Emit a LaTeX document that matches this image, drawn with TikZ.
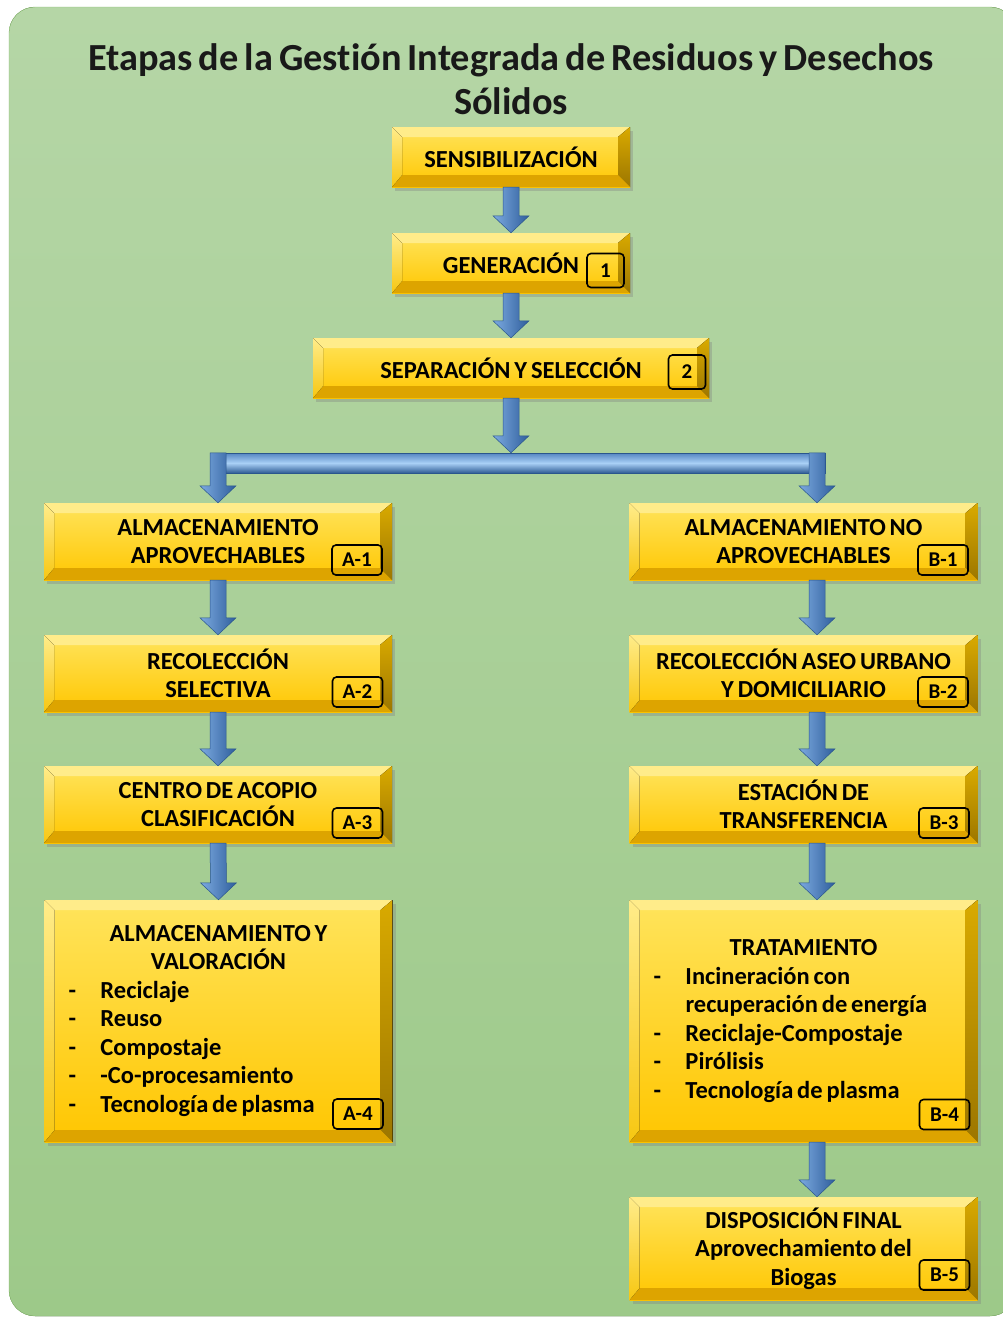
\documentclass[tikz,border=0pt]{standalone}
\usepackage{fontspec}
\setmainfont{Carlito}[WordSpace=0.7, Ligatures=NoCommon]
\usetikzlibrary{calc,shadows}

\definecolor{bgtop}{HTML}{B5D6A6}
\definecolor{bgbot}{HTML}{9DC989}
\definecolor{bgedge}{HTML}{8CBF72}
\definecolor{boxtop}{HTML}{FFE45C}
\definecolor{boxbot}{HTML}{FFC600}
\definecolor{bevtop}{HTML}{FFEC8A}
\definecolor{bevleft}{HTML}{F7C712}
\definecolor{bevrighta}{HTML}{D9AA00}
\definecolor{bevrightb}{HTML}{9C7600}
\definecolor{bevbot}{HTML}{DDA400}
\definecolor{arrlight}{HTML}{7CAAE0}
\definecolor{arrdark}{HTML}{2F5E9C}
\definecolor{arredge}{HTML}{2A568D}
\definecolor{bartop}{HTML}{5586C2}
\definecolor{barbot}{HTML}{2F5C95}
\definecolor{barlight}{HTML}{A9D0F6}

\newcommand\itemdash{\makebox[32pt][l]{-}}
\newcommand\fixspace{\spaceskip=\fontdimen2\font\relax}

\tikzset{
  stage/.style={rectangle, inner sep=0pt, align=center,
    font=\bfseries\fontsize{24.5}{28.5}\selectfont,
    top color=boxtop, bottom color=boxbot,
    drop shadow={shadow xshift=3pt, shadow yshift=-4pt, opacity=0.35},
    path picture={
      \path (path picture bounding box.north west) coordinate (pnw)
            (path picture bounding box.south east) coordinate (pse)
            ([shift={(10pt,-10pt)}]pnw) coordinate (inw)
            ([shift={(-12pt,12pt)}]pse) coordinate (ise);
      \fill[bevtop] (pnw) -- (pnw -| pse) -- (inw -| ise) -- (inw) -- cycle;
      \fill[top color=bevrighta, bottom color=bevrightb]
        (pnw -| pse) -- (pse) -- (ise) -- (inw -| ise) -- cycle;
      \fill[bevbot] (pse) -- (pnw |- pse) -- (inw |- ise) -- (ise) -- cycle;
      \fill[top color=bevtop, bottom color=bevleft]
        (pnw |- pse) -- (pnw) -- (inw) -- (inw |- ise) -- cycle;
    }},
  topbox/.style={stage, minimum width=238pt, minimum height=60pt},
  colbox/.style={stage, minimum width=348pt, minimum height=77pt},
  listbox/.style={stage, minimum width=348pt, minimum height=242pt,
    text width=300pt, align=flush left},
  tag/.style={draw, line width=1.6pt, rounded corners=4pt, inner sep=0pt,
    minimum width=50pt, minimum height=30pt,
    font=\bfseries\fontsize{21}{24}\selectfont},
  numtag/.style={tag, minimum width=37pt, minimum height=34pt},
  flow/.style={left color=arrlight, right color=arrdark, draw=arredge, line width=0.5pt,
    to path={($(\tikztostart)+(-8pt,0)$) -- ($(\tikztostart)+(8pt,0)$)
      -- ($(\tikztotarget)+(8pt,17pt)$) -- ($(\tikztotarget)+(18pt,17pt)$)
      -- (\tikztotarget) -- ($(\tikztotarget)+(-18pt,17pt)$)
      -- ($(\tikztotarget)+(-8pt,17pt)$) -- cycle}},
  hbar/.style={rectangle, inner sep=0pt, minimum width=615pt, minimum height=20pt,
    top color=bartop, bottom color=barbot, middle color=barlight,
    draw=arredge, line width=0.5pt}
}

\begin{document}
\begin{tikzpicture}[x=1pt, y=-1pt]
\useasboundingbox (0,0) rectangle (1003,1318);
\fill[white] (0,0) rectangle (1003,1318);
\fill[top color=bgtop, bottom color=bgbot, draw=bgedge, rounded corners=26pt]
  (9,7) rectangle (1016,1316);

% title
\node[font=\bfseries\fontsize{38.3}{44}\selectfont, align=center, text=black!90]
  (title) at (511,79) {Etapas de la Gestión Integrada de Residuos y Desechos\\Sólidos};

% central stages
\node[topbox] (sen) at (511,157) {SENSIBILIZACIÓN};
\node[topbox] (gen) at (511,263) {GENERACIÓN};
\node[stage, minimum width=396pt, minimum height=60pt] (sep) at (511,368)
  {SEPARACIÓN Y SELECCIÓN};

% branch A
\node[colbox] (a1) at (218,541.5) {ALMACENAMIENTO\\APROVECHABLES};
\node[colbox] (a2) at (218,673.5) {RECOLECCIÓN\\SELECTIVA};
\node[colbox] (a3) at (218,804.5) {CENTRO DE ACOPIO\\CLASIFICACIÓN};
\node[listbox] (a4) at (218.5,1021)
  {\fixspace{\centering ALMACENAMIENTO Y\\VALORACIÓN\par}
   \itemdash Reciclaje\\
   \itemdash Reuso\\
   \itemdash Compostaje\\
   \itemdash -Co-procesamiento\\
   \itemdash Tecnología de plasma};

% branch B
\node[colbox] (b1) at (803.5,541.5) {ALMACENAMIENTO NO\\APROVECHABLES};
\node[colbox] (b2) at (803.5,673.5) {RECOLECCIÓN ASEO URBANO\\Y DOMICILIARIO};
\node[colbox] (b3) at (803.5,804.5) {ESTACIÓN DE\\TRANSFERENCIA};
\node[listbox] (b4) at (803.5,1021)
  {\fixspace{\centering TRATAMIENTO\par}
   \itemdash Incineración con\\
   \hspace*{32pt}recuperación de energía\\
   \itemdash Reciclaje-Compostaje\\
   \itemdash Pirólisis\\
   \itemdash Tecnología de plasma};
\node[stage, minimum width=348pt, minimum height=103pt] (b5) at (803.5,1248.5)
  {DISPOSICIÓN FINAL\\Aprovechamiento del\\Biogas};

% tags
\node[numtag] (t1) at (605.5,270.5) {1};
\node[numtag] (t2) at (687,372) {2};
\node[tag] (ta1) at (357,560) {A-1};
\node[tag] (ta2) at (357.5,692) {A-2};
\node[tag] (ta3) at (357.5,823) {A-3};
\node[tag] (ta4) at (358,1114) {A-4};
\node[tag] (tb1) at (943,560) {B-1};
\node[tag] (tb2) at (943,692) {B-2};
\node[tag] (tb3) at (944,823) {B-3};
\node[tag] (tb4) at (944.5,1114.5) {B-4};
\node[tag] (tb5) at (944.5,1275) {B-5};

% split bar
\node[hbar] (bar) at (517.5,463) {};

% arrows
\path[flow] (sen.south) to (gen.north);
\path[flow] (gen.south) to (sep.north);
\path[flow] (sep.south) to (sep.south |- bar.north);
\path[flow] (a1.north |- bar.north) to (a1.north);
\path[flow] ([xshift=13.5pt]b1.north |- bar.north) to ([xshift=13.5pt]b1.north);
\path[flow] (a1.south) to (a2.north);
\path[flow] (a2.south) to (a3.north);
\path[flow] (a3.south) to (a4.north);
\path[flow] ([xshift=13.5pt]b1.south) to ([xshift=13.5pt]b2.north);
\path[flow] ([xshift=13.5pt]b2.south) to ([xshift=13.5pt]b3.north);
\path[flow] ([xshift=13.5pt]b3.south) to ([xshift=13.5pt]b4.north);
\path[flow] ([xshift=13.5pt]b4.south) to ([xshift=13.5pt]b5.north);

\end{tikzpicture}
\end{document}
